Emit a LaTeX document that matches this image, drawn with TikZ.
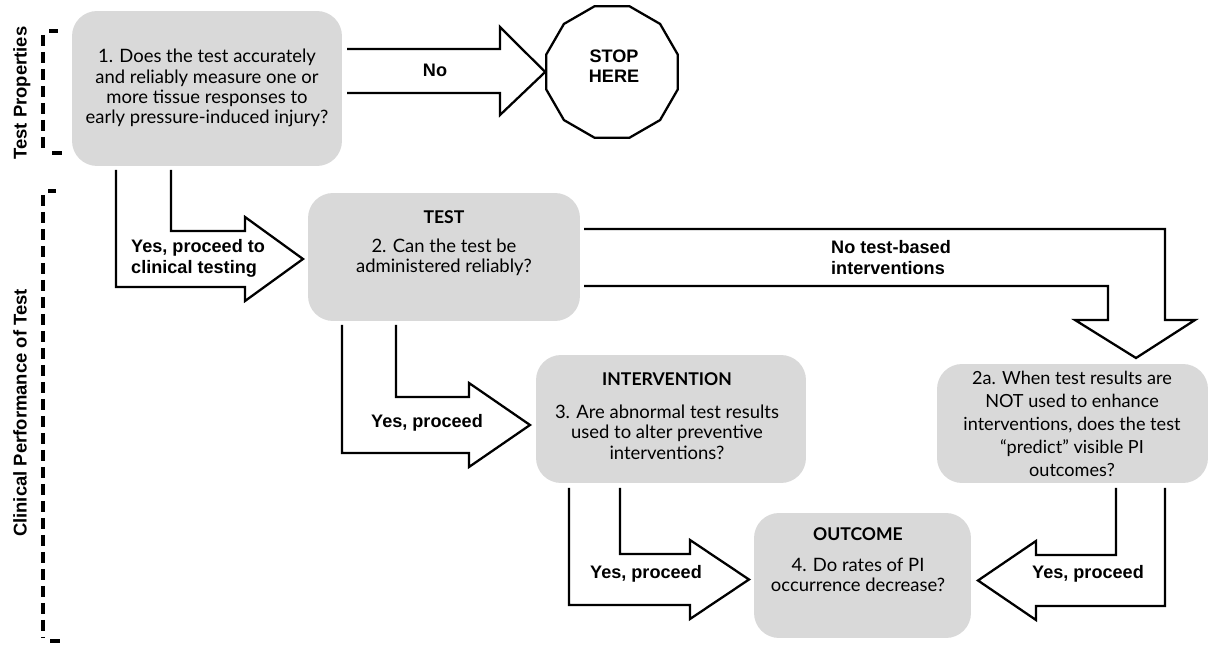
\documentclass[tikz,border=0pt]{standalone}
\usepackage{fontspec}
\setmainfont{Lato}
\newfontfamily\lblfont{Liberation Sans}
\usetikzlibrary{shapes.geometric}
\definecolor{boxgray}{HTML}{D9D9D9}

\begin{document}
\begin{tikzpicture}[
        x=0.02cm, y=-0.02cm,
        box/.style={fill=boxgray, rounded corners=0.5cm, inner sep=0pt},
        txt/.style={align=center, font=\fontsize{10.5}{11.6}\selectfont},
        head/.style={font=\fontsize{10}{11.6}\selectfont\bfseries},
        lbl/.style={align=left, font=\lblfont\fontsize{10.3}{11.5}\selectfont\bfseries},
        blockarrow/.style={draw, line width=1.3pt, line join=miter},
        bracket/.style={line width=2pt, dash pattern=on 0.22cm off 0.12cm},
        tick/.style={line width=2pt},
        side/.style={rotate=90, font=\lblfont\fontsize{10.5}{11}\selectfont\bfseries},
        text depth=0cm,
        ]
        \useasboundingbox (0,0) rectangle (1218,651);

        % boxes
        \node[box, minimum width=5.4cm, minimum height=3.1cm] (props) at (207,88.5) {};
        \node[box, minimum width=5.44cm, minimum height=2.56cm] (test) at (444,257) {};
        \node[box, minimum width=5.4cm, minimum height=2.56cm] (interv) at (671,419) {};
        \node[box, minimum width=4.34cm, minimum height=2.5cm] (outcome) at (862.5,575.5) {};
        \node[box, minimum width=5.42cm, minimum height=2.38cm] (predict) at (1072.5,423.5) {};
        \node[draw, line width=1.3pt, regular polygon, regular polygon sides=12,
            minimum size=2.72cm, inner sep=0pt] (stop) at (612,72) {};

        % box texts
        \node[txt] (propstext) at (207,86.5) {1. Does the test accurately\\and reliably measure one or\\more tissue responses to\\early pressure-induced injury?};
        \node[head] (testhead) at (444,217) {TEST};
        \node[txt] (testtext) at (444,255.5) {2. Can the test be\\administered reliably?};
        \node[head] (intervhead) at (667,379) {INTERVENTION};
        \node[txt] (intervtext) at (667,432) {3. Are abnormal test results\\used to alter preventive\\interventions?};
        \node[head] (outcomehead) at (858,534) {OUTCOME};
        \node[txt] (outcometext) at (858,575) {4. Do rates of PI\\occurrence decrease?};
        \node[txt, font=\fontsize{10.3}{13}\selectfont] (predicttext) at (1072,424) {2a. When test results are\\NOT used to enhance\\interventions, does the test\\“predict” visible PI\\outcomes?};
        \node[lbl, align=center] (stoptext) at (614,66) {STOP\\HERE};

        % block arrows
        \draw[blockarrow] (347,49) -- (500,49) -- (500,27) -- (stop.west) -- (500,115) -- (500,93) -- (347,93);
        \draw[blockarrow] (116,170) -- (116,287) -- (245,287) -- (245,301) -- (303,259) -- (245,217) -- (245,231) -- (171,231) -- (171,170);
        \draw[blockarrow] (584,229) -- (1165,229) -- (1165,320) -- (1195,320) -- (1136,358) -- (1075,320) -- (1108,320) -- (1108,286) -- (584,286);
        \draw[blockarrow] (342,325) -- (342,453) -- (469,453) -- (469,467) -- (530,425) -- (469,383) -- (469,397) -- (396,397) -- (396,325);
        \draw[blockarrow] (569,488) -- (569,605) -- (690,605) -- (690,619) -- (749,579.5) -- (690,540) -- (690,554) -- (620,554) -- (620,488);
        \draw[blockarrow] (1165,488) -- (1165,606) -- (1036,606) -- (1036,620) -- (978,580.5) -- (1036,541) -- (1036,555) -- (1116,555) -- (1116,488);

        % arrow labels
        \node[lbl] (nolbl) at (435,70) {No};
        \node[lbl, anchor=west] (yeslbl) at (125,256.5) {Yes, proceed to\\clinical testing};
        \node[lbl, anchor=west] (notestlbl) at (825,257.5) {No test-based\\interventions};
        \node[lbl] (yesinterv) at (427,421) {Yes, proceed};
        \node[lbl] (yesoutcome) at (646,572) {Yes, proceed};
        \node[lbl] (yespredict) at (1088,572) {Yes, proceed};

        % side brackets
        \draw[bracket] (43,35) -- (43,151);
        \draw[tick] (49,31) -- (58,31);
        \draw[tick] (52,153) -- (62,153);
        \draw[bracket] (43,195) -- (43,637);
        \draw[tick] (48,191) -- (56,191);
        \draw[tick] (50,641) -- (60,641);
        \node[side] (propside) at (20,93) {Test Properties};
        \node[side] (clinside) at (20,413) {Clinical Performance of Test};
    \end{tikzpicture}
\end{document}
